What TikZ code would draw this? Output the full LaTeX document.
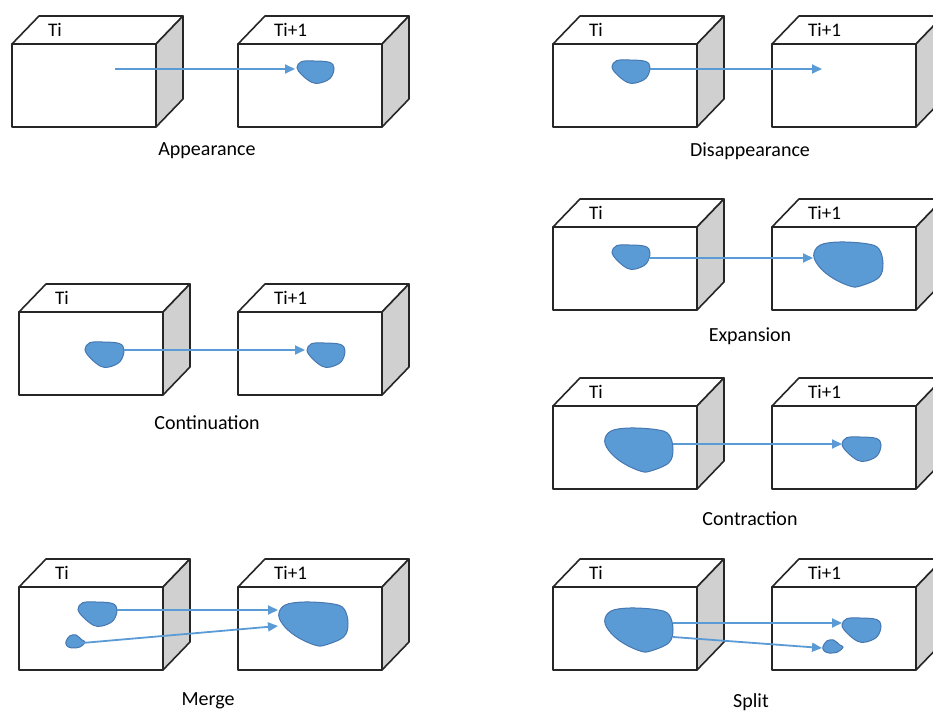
\documentclass[tikz,border=0pt]{standalone}
\usepackage{fontspec}
\setmainfont{Carlito}
\usepackage{xcolor}
\usetikzlibrary{arrows.meta}

\definecolor{sidegray}{HTML}{D0D0D0}
\definecolor{blobfill}{HTML}{5B9BD5}
\definecolor{blobline}{HTML}{4677B0}
\definecolor{flowblue}{HTML}{5B9BD5}

\begin{document}
\begin{tikzpicture}[x=0.5pt,y=-0.5pt,
  face/.style={draw=black!85,line width=0.8pt,line join=round},
  blob/.style={fill=blobfill,draw=blobline,line width=0.5pt},
  flow/.style={draw=flowblue,line width=0.9pt,-{Triangle[length=5pt,width=4.5pt]}},
  caption/.style={anchor=base,font=\fontsize{10}{12}\selectfont},
  tlabel/.style={anchor=base west,font=\fontsize{9.6}{12}\selectfont}]
\useasboundingbox (0,0) rectangle (933,711);
\clip (0,0) rectangle (933,711);
% boxes: front corner x/y and time label
\foreach \x/\y/\t [count=\n] in {12/44/Ti,238/44/Ti+1,553/44/Ti,772/44/Ti+1,
    19/312/Ti,238/312/Ti+1,553/227/Ti,772/227/Ti+1,553/406/Ti,772/406/Ti+1,
    19/587/Ti,238/587/Ti+1,553/587/Ti,772/587/Ti+1} {
  \draw[face,fill=white] (\x,\y) -- ++(27,-28) -- ++(144,0) -- ++(-27,28) -- cycle;
  \draw[face,fill=sidegray] (\x+144,\y) -- ++(27,-28) -- ++(0,83) -- ++(-27,28) -- cycle;
  \draw[face,fill=white] (\x,\y) rectangle ++(144,83);
  \node[tlabel] (time\n) at (\x+29,\y-7) {\t};
}
% small blobs
\foreach \x/\y/\w/\h in {297/61/37/22,612/60/38/23,85/342/39/25,307/343/38/24,
    612/245/38/24,842/437/39/24,78/602/39/24,842/618/39/24} {
  \draw[blob,shift={(\x,\y)},xscale=\w,yscale=\h] plot[smooth cycle,tension=0.6] coordinates
    {(0,0.3) (0.12,0.03) (0.45,0) (0.88,0.06) (1,0.33) (0.9,0.78) (0.62,1) (0.4,0.97) (0.13,0.63)};
}
% big blobs
\foreach \x/\y/\w/\h in {813/242/70/45,604/428/69/44,278/602/70/44,604/608/69/44} {
  \draw[blob,shift={(\x,\y)},xscale=\w,yscale=\h] plot[smooth cycle,tension=0.6] coordinates
    {(0.01,0.3) (0.1,0.07) (0.38,0) (0.77,0.04) (0.94,0.15) (1,0.48) (0.94,0.79)
     (0.67,0.98) (0.53,0.98) (0.29,0.81) (0.1,0.57)};
}
% tiny blobs
\foreach \x/\y/\w/\h in {66/635/19/13,823/640/20/13} {
  \draw[blob,shift={(\x,\y)},xscale=\w,yscale=\h] plot[smooth cycle,tension=0.6] coordinates
    {(0,0.5) (0.2,0.07) (0.53,0) (0.83,0.37) (1,0.55) (0.74,0.92) (0.31,1) (0.05,0.83)};
}
% arrows
\foreach \a/\b/\c/\d [count=\n] in {115/69/295/69,650/69/822/69,124/350/305/350,
    650/258/813/258,673/444/842/444,117/610/278/610,82/643/278/626,
    673/623/842/623,673/637/822/648} {
  \coordinate (from\n) at (\a,\b);
  \coordinate (to\n) at (\c,\d);
  \draw[flow] (from\n) -- (to\n);
}
% captions
\node[caption] (appearance) at (207,156) {Appearance};
\node[caption] (disappearance) at (750,157) {Disappearance};
\node[caption] (continuation) at (207,430) {Continuation};
\node[caption] (expansion) at (750,342) {Expansion};
\node[caption] (contraction) at (750,525) {Contraction};
\node[caption] (merge) at (208,705) {Merge};
\node[caption] (split) at (751,707) {Split};
\end{tikzpicture}
\end{document}
